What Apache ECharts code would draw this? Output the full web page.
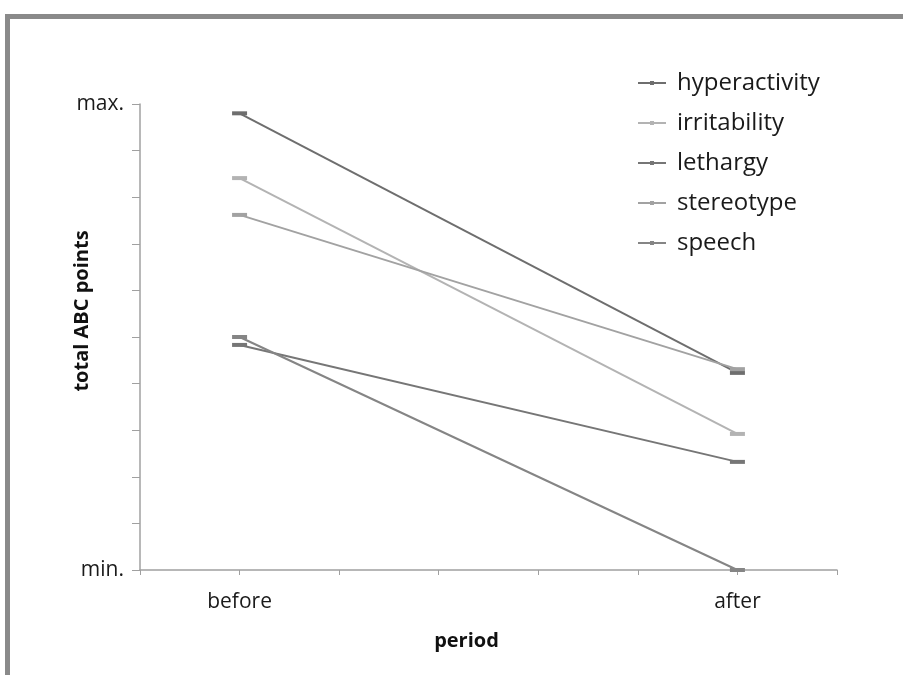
<!DOCTYPE html>
<html><head><meta charset="utf-8">
<script src="https://cdn.jsdelivr.net/npm/echarts@6/dist/echarts.min.js"></script>
<style>html,body{margin:0;padding:0;background:#fff}#c{width:903px;height:675px}</style>
</head><body><div id="c"></div>
<script>
// category slots along the x axis (ticks at every slot; only two are labelled)
var periodSlots = ['', 'before', '', '', '', '', 'after', ''];
var periods = ['before', 'after'];
var seriesNames = ['hyperactivity', 'irritability', 'lethargy', 'stereotype', 'speech'];
var hyperactivity = [9.8, 4.23];
var irritability = [8.41, 2.92];
var lethargy = [4.83, 2.32];
var stereotype = [7.62, 4.31];
var speech = [5.0, 0.0];
var yMin = 0, yMax = 10;
var yTickLabels = { 0: 'min.', 10: 'max.' };
var colors = ['#6e6e6e', '#b3b3b3', '#767676', '#a2a2a2', '#858585'];

var values = [hyperactivity, irritability, lethargy, stereotype, speech];
function toSlots(vals) {
  return periodSlots.map(function (s) {
    var k = periods.indexOf(s);
    return k >= 0 ? vals[k] : null;
  });
}
var FONT = '"Open Sans", "DejaVu Sans", sans-serif';
var chart = echarts.init(document.getElementById('c'), null, { renderer: 'canvas' });
chart.setOption({
  animation: false,
  backgroundColor: '#fff',
  graphic: [
    { type: 'rect', shape: { x: 5, y: 14, width: 898, height: 5 }, style: { fill: '#8a8a8a' } },
    { type: 'rect', shape: { x: 5, y: 14, width: 5, height: 661 }, style: { fill: '#8a8a8a' } }
  ],
  grid: { left: 140, top: 104, right: 66, bottom: 105 },
  legend: {
    data: seriesNames,
    orient: 'vertical',
    left: 632, top: 66,
    itemGap: 16,
    itemWidth: 28, itemHeight: 5,
    textStyle: { fontFamily: FONT, fontSize: 24, color: '#1a1a1a', padding: [0, 0, 0, 6] }
  },
  xAxis: {
    type: 'category',
    data: periodSlots,
    boundaryGap: false,
    name: 'period',
    nameLocation: 'middle',
    nameGap: 61,
    nameTextStyle: { fontFamily: FONT, fontSize: 20, fontWeight: 'bold', color: '#111', padding: [0, 44, 0, 0] },
    axisLine: { lineStyle: { color: '#a0a0a0', width: 1.5 } },
    axisTick: { show: true, interval: 0, length: 5, alignWithLabel: true, lineStyle: { color: '#a0a0a0' } },
    axisLabel: { interval: 0, margin: 22, fontFamily: FONT, fontSize: 21, color: '#1a1a1a' },
    splitLine: { show: false }
  },
  yAxis: {
    type: 'value',
    min: yMin, max: yMax, interval: 1,
    name: 'total ABC points',
    nameLocation: 'middle',
    nameGap: 48,
    nameMoveOverlap: false,
    nameRotate: 90,
    nameTextStyle: { fontFamily: FONT, fontSize: 20, fontWeight: 'bold', color: '#111', padding: [0, 0, 0, 52] },
    axisLine: { show: true, lineStyle: { color: '#a0a0a0', width: 1.5 } },
    axisTick: { show: true, length: 8, lineStyle: { color: '#a0a0a0' } },
    axisLabel: {
      margin: 16, fontFamily: FONT, fontSize: 21, color: '#1a1a1a',
      formatter: function (v) { return yTickLabels[v] || ''; }
    },
    splitLine: { show: false }
  },
  series: seriesNames.map(function (n, i) {
    return {
      name: n,
      type: 'line',
      data: toSlots(values[i]),
      connectNulls: true,
      color: colors[i],
      symbol: 'rect',
      symbolSize: [15, 4],
      showSymbol: true,
      lineStyle: { width: 2, color: colors[i] },
      itemStyle: { color: colors[i] }
    };
  })
});
</script></body></html>
